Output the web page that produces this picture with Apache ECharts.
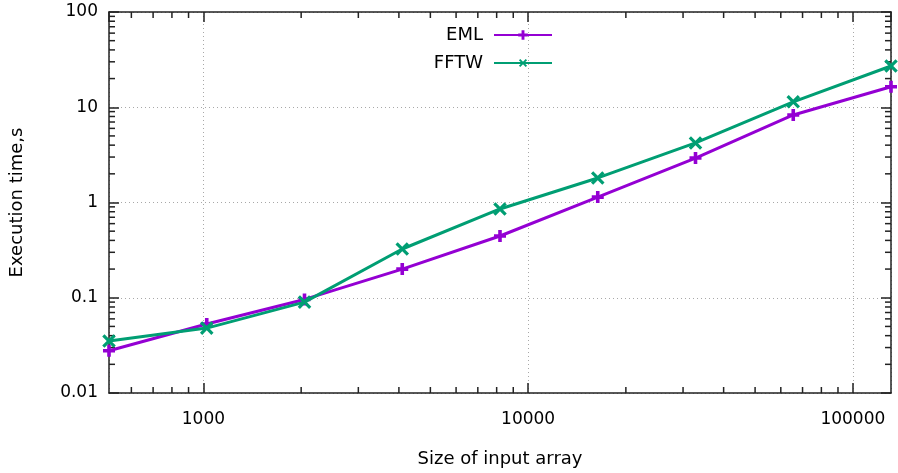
<!DOCTYPE html>
<html>
<head>
<meta charset="utf-8">
<script src="https://cdn.jsdelivr.net/npm/echarts@6/dist/echarts.min.js"></script>
<style>
html,body{margin:0;padding:0;background:#fff;}
#chart{width:898px;height:473px;}
</style>
</head>
<body>
<div id="chart"></div>
<script>
// ---- data ----
const sizes = [512, 1024, 2048, 4096, 8192, 16384, 32768, 65536, 131072];
const emlTimes = [0.0278, 0.053, 0.096, 0.20, 0.445, 1.14, 2.93, 8.3, 16.4];
const fftwTimes = [0.0351, 0.048, 0.090, 0.325, 0.855, 1.81, 4.22, 11.4, 27.1];
const seriesNames = ['EML', 'FFTW'];
const xRange = [512, 131072];
const yRange = [0.01, 100];
const xMinorTicks = [600, 700, 800, 900, 2000, 3000, 4000, 5000, 6000, 7000, 8000, 9000,
  20000, 30000, 40000, 50000, 60000, 70000, 80000, 90000];
const yMinorTicks = [0.02, 0.03, 0.04, 0.05, 0.06, 0.07, 0.08, 0.09,
  0.2, 0.3, 0.4, 0.5, 0.6, 0.7, 0.8, 0.9,
  2, 3, 4, 5, 6, 7, 8, 9,
  20, 30, 40, 50, 60, 70, 80, 90];
const xAxisTitle = 'Size of input array';
const yAxisTitle = 'Execution time,s';

// ---- styles ----
const FONT = 'DejaVu Sans';
const colors = ['#9400D3', '#009E73'];
const plusPath = 'path://M3.5,0H6.5V3.5H10V6.5H6.5V10H3.5V6.5H0V3.5H3.5Z';
const crossPath = 'path://M4,0H6V4H10V6H6V10H4V6H0V4H4Z';
const MAJOR = 10, MINOR = 6;
const axisColor = '#222';

function fmt(v) {
  return String(parseFloat(Number(v).toPrecision(6)));
}
function isDecade(v) {
  const l = Math.log10(v);
  return Math.abs(l - Math.round(l)) < 1e-6;
}

const chart = echarts.init(document.getElementById('chart'), null, {renderer: 'canvas'});

const commonX = {
  type: 'log', logBase: 10, min: xRange[0], max: xRange[1],
  axisLine: {show: true, onZero: false, lineStyle: {color: axisColor, width: 1.5}},
  axisTick: {show: true, inside: true, length: MAJOR, lineStyle: {color: axisColor, width: 1.5}},
  minorTick: {show: false},
  splitLine: {show: false},
};
const commonY = {
  type: 'log', logBase: 10, min: yRange[0], max: yRange[1],
  axisLine: {show: true, onZero: false, lineStyle: {color: axisColor, width: 1.5}},
  axisTick: {show: true, inside: true, length: MAJOR, lineStyle: {color: axisColor, width: 1.5}},
  minorTick: {show: false},
  splitLine: {show: false},
};

function minorTickSeries(values, isX) {
  return {
    type: 'custom',
    silent: true,
    clip: false,
    z: 5,
    legendHoverLink: false,
    data: values.map(v => isX ? [v, yRange[0]] : [xRange[0], v]),
    encode: {x: 0, y: 1},
    renderItem: function (params, api) {
      const style = {stroke: axisColor, lineWidth: 1.5};
      if (isX) {
        const v = api.value(0);
        const b = api.coord([v, yRange[0]]);
        const t = api.coord([v, yRange[1]]);
        return {type: 'group', children: [
          {type: 'line', shape: {x1: b[0], y1: b[1], x2: b[0], y2: b[1] - MINOR}, style: style},
          {type: 'line', shape: {x1: t[0], y1: t[1], x2: t[0], y2: t[1] + MINOR}, style: style}
        ]};
      } else {
        const v = api.value(1);
        const l = api.coord([xRange[0], v]);
        const r = api.coord([xRange[1], v]);
        return {type: 'group', children: [
          {type: 'line', shape: {x1: l[0], y1: l[1], x2: l[0] + MINOR, y2: l[1]}, style: style},
          {type: 'line', shape: {x1: r[0], y1: r[1], x2: r[0] - MINOR, y2: r[1]}, style: style}
        ]};
      }
    }
  };
}

const option = {
  animation: false,
  backgroundColor: '#fff',
  textStyle: {fontFamily: FONT},
  grid: {left: 109, right: 7, top: 12, bottom: 80, containLabel: false},
  legend: {
    orient: 'vertical',
    right: 345, top: 26,
    align: 'right',
    itemWidth: 58, itemHeight: 12, itemGap: 10,
    padding: 0,
    textStyle: {fontFamily: FONT, fontSize: 18, color: '#000', padding: [0, 6, 0, 0]},
    data: seriesNames
  },
  xAxis: [
    Object.assign({}, commonX, {
      position: 'bottom',
      name: xAxisTitle, nameLocation: 'middle', nameGap: 57,
      nameTextStyle: {fontFamily: FONT, fontSize: 18, color: '#000'},
      axisLabel: {show: true, margin: 18, fontFamily: FONT, fontSize: 17, color: '#000',
        showMinLabel: false, showMaxLabel: false,
        formatter: v => isDecade(v) ? fmt(v) : ''},
      splitLine: {show: true, lineStyle: {color: '#a8a8a8', width: 1, type: [1, 3]}}
    }),
    Object.assign({}, commonX, {
      position: 'top',
      axisLabel: {show: false}
    })
  ],
  yAxis: [
    Object.assign({}, commonY, {
      position: 'left',
      name: yAxisTitle, nameLocation: 'middle', nameGap: 83,
      nameTextStyle: {fontFamily: FONT, fontSize: 18, color: '#000'},
      axisLabel: {show: true, margin: 11, fontFamily: FONT, fontSize: 17, color: '#000',
        formatter: v => fmt(v)},
      splitLine: {show: true, lineStyle: {color: '#a8a8a8', width: 1, type: [1, 3]}}
    }),
    Object.assign({}, commonY, {
      position: 'right',
      axisLabel: {show: false}
    })
  ],
  series: [
    {
      name: seriesNames[0], type: 'line',
      data: sizes.map((s, i) => [s, emlTimes[i]]),
      color: colors[0],
      lineStyle: {width: 3, color: colors[0]},
      symbol: plusPath, symbolSize: 12, showSymbol: true,
      itemStyle: {color: colors[0]},
      z: 10
    },
    {
      name: seriesNames[1], type: 'line',
      data: sizes.map((s, i) => [s, fftwTimes[i]]),
      color: colors[1],
      lineStyle: {width: 3, color: colors[1]},
      symbol: crossPath, symbolSize: 16, symbolRotate: 45, showSymbol: true,
      itemStyle: {color: colors[1]},
      z: 11
    },
    minorTickSeries(xMinorTicks, true),
    minorTickSeries(yMinorTicks, false)
  ]
};
chart.setOption(option);
</script>
</body>
</html>
